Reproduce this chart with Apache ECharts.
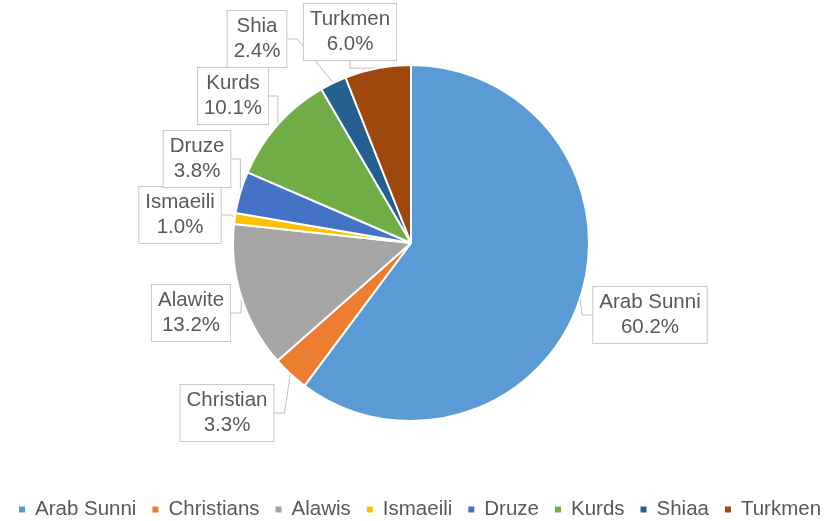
<!DOCTYPE html>
<html>
<head>
<meta charset="utf-8">
<style>
  html, body { margin: 0; padding: 0; background: #ffffff; }
  #chart { width: 824px; height: 521px; }
</style>
<script src="https://cdn.jsdelivr.net/npm/echarts@6/dist/echarts.min.js"></script>
</head>
<body>
<div id="chart"></div>
<script>
// Population shares by group (percent)
const legendNames = ['Arab Sunni', 'Christians', 'Alawis', 'Ismaeili', 'Druze', 'Kurds', 'Shiaa', 'Turkmen'];
const labelNames  = ['Arab Sunni', 'Christian', 'Alawite', 'Ismaeili', 'Druze', 'Kurds', 'Shia', 'Turkmen'];
const shares      = [60.2, 3.3, 13.2, 1.0, 3.8, 10.1, 2.4, 6.0];
const colors      = ['#5B9BD5', '#ED7D31', '#A5A5A5', '#FFC000', '#4472C4', '#70AD47', '#255E91', '#9E480E'];

// Centre of each callout box, in pixels
const calloutPos = [
  [650, 315], [227, 413], [191, 313], [180, 215],
  [197, 159], [233, 96], [257, 39], [350, 32]
];

const chart = echarts.init(document.getElementById('chart'), null, { renderer: 'canvas' });

const textColor = '#595959';

chart.setOption({
  backgroundColor: '#ffffff',
  animation: false,
  color: colors,
  legend: {
    top: 499,
    left: 17,
    width: 807,
    padding: 0,
    icon: 'rect',
    itemWidth: 8,
    itemHeight: 8,
    itemGap: 14,
    textStyle: {
      color: textColor,
      fontFamily: 'Liberation Sans, Arial, sans-serif',
      fontSize: 20.5,
      padding: [0, 0, 0, 4]
    },
    data: legendNames
  },
  series: [{
    type: 'pie',
    center: [411, 243],
    radius: [0, 178],
    startAngle: 90,
    clockwise: true,
    avoidLabelOverlap: false,
    itemStyle: { borderColor: '#ffffff', borderWidth: 2 },
    label: {
      show: true,
      position: 'outside',
      formatter: p => labelNames[p.dataIndex] + '\n' + shares[p.dataIndex].toFixed(1) + '%',
      color: textColor,
      fontFamily: 'Liberation Sans, Arial, sans-serif',
      fontSize: 20.5,
      lineHeight: 25,
      align: 'center',
      backgroundColor: '#ffffff',
      borderColor: '#c8c8c8',
      borderWidth: 1,
      padding: [4, 6, 2, 6]
    },
    labelLine: {
      show: true,
      length: 10,
      length2: 10,
      lineStyle: { color: '#bfbfbf', width: 1 }
    },
    labelLayout: params => {
      const pos = calloutPos[params.dataIndex];
      return { x: pos[0], y: pos[1], align: 'center', verticalAlign: 'middle' };
    },
    emphasis: { disabled: true },
    data: legendNames.map((n, i) => ({ name: n, value: shares[i] }))
  }]
});
</script>
</body>
</html>
